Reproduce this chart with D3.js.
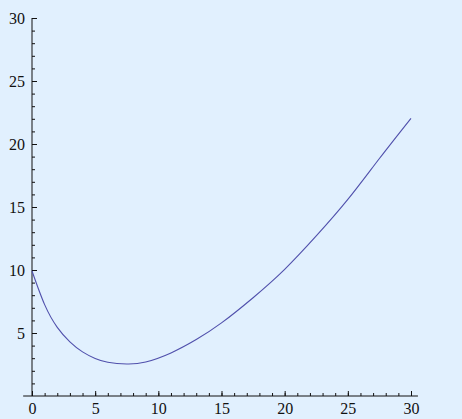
<!DOCTYPE html>
<html>
<head>
<meta charset="utf-8">
<script src="https://cdn.jsdelivr.net/npm/d3@7"></script>
<style>
  html, body { margin: 0; padding: 0; background: #e1f0fe; }
  svg { display: block; }
  .tick text { font-family: "Liberation Serif", "Times New Roman", serif; font-size: 16px; fill: #111; }
</style>
</head>
<body>
<div id="chart"></div>
<script>
// values
var curveX = [0, 1, 2, 3, 4, 5, 6, 7.5, 9, 11, 13, 15, 17.5, 20, 22.5, 25, 27.5, 30];
var curveY = [9.92, 7.25, 5.45, 4.3, 3.5, 2.98, 2.68, 2.54, 2.7, 3.42, 4.48, 5.8, 7.8, 10.05, 12.7, 15.6, 18.85, 22.04];
var xTicks = [0, 5, 10, 15, 20, 25, 30];
var yTicks = [5, 10, 15, 20, 25, 30];
var minorTicks = d3.range(0, 31);

var width = 462, height = 419;
var margin = {top: 18, right: 51, bottom: 23, left: 32};

var svg = d3.select("#chart").append("svg")
    .attr("width", width)
    .attr("height", height);

svg.append("rect")
    .attr("width", width)
    .attr("height", height)
    .attr("fill", "#e1f0fe");

var x = d3.scaleLinear().domain([0, 30]).range([margin.left, width - margin.right]);
var y = d3.scaleLinear().domain([0, 30]).range([height - margin.bottom, margin.top]);

var g = svg.append("g");

// minor ticks (every unit)
g.append("g")
    .attr("transform", "translate(0," + y(0) + ")")
    .call(d3.axisBottom(x).tickValues(minorTicks).tickSizeInner(-3).tickSizeOuter(0).tickFormat(""))
    .call(function (s) { s.select(".domain").remove(); });

g.append("g")
    .attr("transform", "translate(" + x(0) + ",0)")
    .call(d3.axisLeft(y).tickValues(minorTicks.filter(function (d) { return d > 0; })).tickSizeInner(-3).tickSizeOuter(0).tickFormat(""))
    .call(function (s) { s.select(".domain").remove(); });

// major ticks + labels
var xAxis = g.append("g")
    .attr("transform", "translate(0," + y(0) + ")")
    .call(d3.axisBottom(x).tickValues(xTicks).tickSizeInner(-5).tickSizeOuter(0).tickPadding(7));
xAxis.select(".domain").remove();

var yAxis = g.append("g")
    .attr("transform", "translate(" + x(0) + ",0)")
    .call(d3.axisLeft(y).tickValues(yTicks).tickSizeInner(-5).tickSizeOuter(0).tickPadding(7));
yAxis.select(".domain").remove();

g.selectAll(".tick line").attr("stroke", "#111");

// axis lines
g.append("line")
    .attr("x1", x(-0.7)).attr("x2", x(30.55))
    .attr("y1", y(0)).attr("y2", y(0))
    .attr("stroke", "#111").attr("stroke-width", 1);

g.append("line")
    .attr("x1", x(0)).attr("x2", x(0))
    .attr("y1", y(0)).attr("y2", y(30))
    .attr("stroke", "#111").attr("stroke-width", 1);

// the curve
var pts = curveX.map(function (d, i) { return [d, curveY[i]]; });
var line = d3.line()
    .x(function (d) { return x(d[0]); })
    .y(function (d) { return y(d[1]); })
    .curve(d3.curveNatural);

svg.append("path")
    .datum(pts)
    .attr("fill", "none")
    .attr("stroke", "#5050ac")
    .attr("stroke-width", 1.1)
    .attr("d", line);
</script>
</body>
</html>
